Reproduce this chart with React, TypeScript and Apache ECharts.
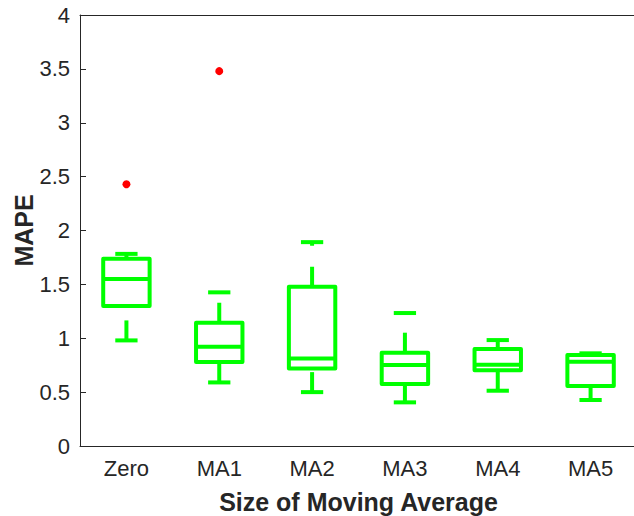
import React, { useEffect, useRef } from "react";
import * as echarts from "echarts";

const categories = ["Zero", "MA1", "MA2", "MA3", "MA4", "MA5"];
const lowerWhisker = [0.98, 0.59, 0.5, 0.405, 0.513, 0.427];
const q1 = [1.3, 0.78, 0.72, 0.575, 0.702, 0.557];
const median = [1.55, 0.92, 0.813, 0.751, 0.755, 0.782];
const q3 = [1.738, 1.144, 1.478, 0.866, 0.9, 0.844];
const upperWhisker = [1.783, 1.426, 1.892, 1.234, 0.983, 0.86];
const outlierCats = [0, 1];
const outlierValues = [2.43, 3.479];
const yTicks = [0, 0.5, 1, 1.5, 2, 2.5, 3, 3.5, 4];

const GREEN = "#00ff00";
const AXIS = "#262626";
const FONT = "Liberation Sans, Arial, Helvetica, sans-serif";

export default function App() {
  const ref = useRef<HTMLDivElement>(null);
  useEffect(() => {
    document.body.style.margin = "0";
    const chart = echarts.init(ref.current!, null, { renderer: "svg" });
    const boxData = categories.map((_, i) => [
      i,
      lowerWhisker[i],
      q1[i],
      median[i],
      q3[i],
      upperWhisker[i],
    ]);
    const renderItem = (params: any, api: any) => {
      const idx = api.value(0);
      const lw = api.coord([idx, api.value(1)]);
      const b1 = api.coord([idx, api.value(2)]);
      const md = api.coord([idx, api.value(3)]);
      const b3 = api.coord([idx, api.value(4)]);
      const uw = api.coord([idx, api.value(5)]);
      const band = api.size([1, 0])[0];
      const hw = band * 0.25;
      const cw = band * 0.12;
      const x = lw[0];
      const lineStyle = {
        stroke: GREEN,
        lineWidth: 4,
        fill: null,
        lineJoin: "round",
      };
      return {
        type: "group",
        children: [
          {
            type: "line",
            shape: { x1: x, y1: lw[1], x2: x, y2: b1[1] },
            style: { ...lineStyle, lineDash: [20, 21] },
          },
          {
            type: "line",
            shape: { x1: x, y1: b3[1], x2: x, y2: uw[1] },
            style: { ...lineStyle, lineDash: [20, 21] },
          },
          {
            type: "line",
            shape: { x1: x - cw, y1: lw[1], x2: x + cw, y2: lw[1] },
            style: lineStyle,
          },
          {
            type: "line",
            shape: { x1: x - cw, y1: uw[1], x2: x + cw, y2: uw[1] },
            style: lineStyle,
          },
          {
            type: "rect",
            shape: { x: x - hw, y: b3[1], width: hw * 2, height: b1[1] - b3[1] },
            style: lineStyle,
          },
          {
            type: "line",
            shape: { x1: x - hw, y1: md[1], x2: x + hw, y2: md[1] },
            style: lineStyle,
          },
        ],
      };
    };
    const option: any = {
      animation: false,
      backgroundColor: "#ffffff",
      grid: {
        left: 80,
        top: 15,
        width: 557,
        height: 431,
        containLabel: false,
        outerBoundsMode: "none",
      },
      xAxis: [
        {
          type: "category",
          data: categories,
          boundaryGap: true,
          name: "Size of Moving Average",
          nameLocation: "middle",
          nameGap: 43,
          nameMoveOverlap: false,
          nameTextStyle: { fontFamily: FONT, fontSize: 25, fontWeight: "bold", color: AXIS },
          axisLine: { lineStyle: { color: AXIS, width: 1 } },
          axisTick: { inside: true, alignWithLabel: true, length: 6, lineStyle: { color: AXIS } },
          axisLabel: { fontFamily: FONT, fontSize: 22, color: AXIS, margin: 11 },
          splitLine: { show: false },
        },
        {
          type: "category",
          data: categories,
          position: "top",
          boundaryGap: true,
          axisLine: { lineStyle: { color: AXIS, width: 1 } },
          axisTick: { inside: true, alignWithLabel: true, length: 6, lineStyle: { color: AXIS } },
          axisLabel: { show: false },
          splitLine: { show: false },
        },
      ],
      yAxis: {
        type: "value",
        min: 0,
        max: 4,
        interval: 0.5,
        name: "MAPE",
        nameLocation: "middle",
        nameGap: 44,
        nameMoveOverlap: false,
        nameTextStyle: { fontFamily: FONT, fontSize: 25, fontWeight: "bold", color: AXIS },
        axisLine: { show: true, lineStyle: { color: AXIS, width: 1 } },
        axisTick: { show: true, inside: true, length: 6, lineStyle: { color: AXIS } },
        axisLabel: {
          fontFamily: FONT,
          fontSize: 22,
          color: AXIS,
          margin: 10,
          formatter: (v: number) => (yTicks.includes(v) ? String(v) : ""),
        },
        splitLine: { show: false },
      },
      series: [
        {
          type: "custom",
          renderItem,
          data: boxData,
          encode: { x: 0, y: [1, 2, 3, 4, 5] },
          z: 2,
        },
        {
          type: "scatter",
          data: outlierCats.map((c, i) => [c, outlierValues[i]]),
          symbol: "circle",
          symbolSize: 8,
          itemStyle: { color: "#ff0000", opacity: 1 },
          z: 3,
        },
      ],
    };
    chart.setOption(option);
    return () => chart.dispose();
  }, []);
  return <div ref={ref} style={{ width: 634, height: 516 }} />;
}
